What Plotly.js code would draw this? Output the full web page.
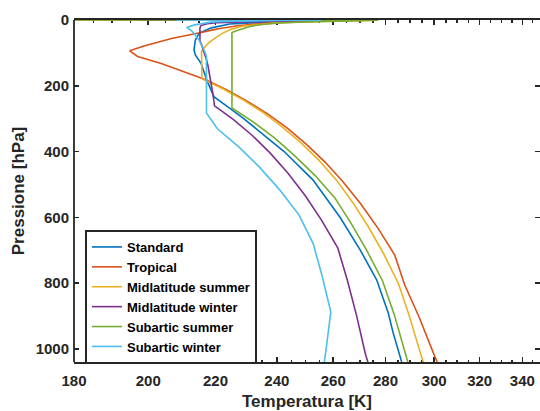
<!DOCTYPE html>
<html>
<head>
<meta charset="utf-8">
<script src="https://cdn.plot.ly/plotly-3.0.1.min.js"></script>
<style>html,body{margin:0;padding:0;background:#fff;overflow:hidden}</style>
</head>
<body>
<div id="chart" style="width:540px;height:411px"></div>
<script>
// ---- data (pressure in hPa, temperature in K) ----
const seriesNames = ["Standard", "Tropical", "Midlatitude summer", "Midlatitude winter", "Subartic summer", "Subartic winter"];

const pStandard = [1040, 950, 891, 790, 699, 600, 486, 400, 365, 300, 265, 233, 182, 131, 106, 91, 61, 40, 24, 12, 5, 2, 1, 0.7, 0.3, 0.1, 0.03, 0.01, 0.003, 0.0003];
const tStandard = [286.5, 283.0, 281.1, 276.5, 270.1, 262.5, 252.6, 242.5, 237.7, 229.0, 224.0, 219.5, 217.3, 215.5, 213.8, 213.4, 213.8, 215.0, 218.7, 224.5, 240, 255, 265, 270, 255, 235, 210, 195, 187, 195];

const pTropical = [1040, 1013, 904, 805, 715, 633, 559, 492, 432, 378, 329, 286, 247, 213, 182, 156, 132, 111, 93.7, 78.9, 66.6, 56.5, 48.0, 40.9, 35.0, 30.0, 25.7, 17.63, 12.2, 8.52, 6.0, 4.26, 3.05, 2.2, 1.59, 1.16, 0.854, 0.456, 0.239, 0.121, 0.058, 0.026, 0.011, 0.0044, 0.00172, 0.000688, 0.000289];
const tTropical = [301.3, 299.7, 293.7, 287.7, 283.7, 277.0, 270.3, 263.6, 257.0, 250.3, 243.6, 237.0, 230.1, 223.6, 217.0, 210.3, 203.7, 197.0, 194.8, 198.8, 202.7, 206.7, 210.7, 214.6, 217.0, 219.2, 221.4, 227.0, 232.3, 237.7, 243.1, 248.5, 254.0, 259.4, 264.8, 269.6, 270.2, 263.4, 253.1, 236.0, 218.9, 201.8, 184.8, 177.1, 177.0, 184.3, 190.7];

const pMidSummer = [1040, 1013, 902, 802, 710, 628, 554, 487, 426, 372, 324, 281, 243, 209, 179, 153, 130, 111, 95, 81.2, 69.5, 59.5, 51.0, 43.7, 37.6, 32.2, 27.7, 19.07, 13.2, 9.3, 6.52, 4.64, 3.33, 2.41, 1.76, 1.29, 0.951, 0.515, 0.272, 0.139, 0.067, 0.03, 0.012, 0.0045, 0.0016, 0.0006, 0.00025];
const tMidSummer = [295.4, 294.2, 289.7, 285.2, 279.2, 273.2, 267.2, 261.2, 254.7, 248.2, 241.7, 235.3, 228.8, 222.3, 215.8, 215.7, 215.7, 215.7, 215.7, 216.8, 217.9, 219.2, 220.4, 221.6, 222.8, 223.9, 225.1, 228.5, 233.7, 239.0, 245.2, 251.3, 257.5, 263.7, 269.9, 275.2, 275.7, 269.3, 257.1, 240.1, 218.1, 196.1, 174.1, 165.1, 165.0, 178.3, 190.5];

const pMidWinter = [1040, 1018, 897.3, 789.7, 693.8, 608.5, 532.2, 464.4, 404.1, 350.5, 303.0, 261.0, 224.3, 192.3, 164.6, 140.7, 120.2, 102.7, 87.7, 74.9, 63.9, 54.5, 46.5, 39.7, 33.8, 28.9, 24.7, 16.9, 11.6, 8.0, 5.5, 3.8, 2.7, 1.9, 1.4, 1.0, 0.73, 0.39, 0.2, 0.1, 0.05, 0.024, 0.011, 0.005, 0.002, 0.0008, 0.0003];
const tMidWinter = [273.1, 272.2, 268.7, 265.2, 261.7, 255.7, 249.7, 243.7, 237.7, 231.7, 225.7, 219.7, 219.2, 218.7, 218.2, 217.7, 217.2, 216.7, 216.2, 215.7, 215.2, 215.2, 215.2, 215.2, 215.2, 215.2, 215.2, 215.5, 217.4, 220.4, 227.9, 235.7, 243.5, 251.3, 259.1, 264.3, 265.5, 260.7, 250.0, 240.0, 230.0, 220.0, 210.0, 199.5, 199.0, 198.0, 208.0];

const pSubSummer = [1040, 1010, 896, 792.9, 700, 616, 541, 473.1, 412.5, 358.4, 310.7, 267.7, 230, 197.7, 170, 146.3, 125.9, 108.3, 93.29, 80.36, 69.23, 59.64, 51.38, 44.28, 38.15, 32.88, 28.33, 19.64, 13.67, 9.55, 6.70, 4.74, 3.39, 2.44, 1.78, 1.31, 0.97, 0.53, 0.28, 0.14, 0.067, 0.03, 0.012, 0.0045, 0.0016, 0.0006, 0.00023];
const tSubSummer = [289.0, 287.8, 283.5, 278.8, 272.6, 266.5, 260.6, 253.4, 246.1, 239.2, 232.2, 225.2, 225.2, 225.2, 225.2, 225.2, 225.2, 225.2, 225.2, 225.2, 225.2, 225.2, 225.2, 225.2, 225.2, 226.6, 228.1, 231.0, 235.1, 240.0, 247.2, 254.6, 262.1, 269.5, 273.6, 276.2, 277.2, 274.0, 262.7, 239.7, 216.6, 193.6, 170.6, 161.7, 161.6, 176.8, 190.4];

const pSubWinter = [1040, 1013, 887.8, 777.5, 679.8, 593.2, 515.8, 446.7, 385.3, 330.8, 282.9, 241.8, 206.7, 176.6, 150.9, 129.0, 110.3, 94.31, 80.58, 68.82, 58.75, 50.14, 42.77, 36.47, 31.09, 26.49, 22.56, 14.82, 9.73, 6.38, 4.2, 2.8, 1.88, 1.27, 0.87, 0.6, 0.42, 0.2, 0.1, 0.05, 0.02, 0.008, 0.003, 0.001, 0.0004];
const tSubWinter = [256.7, 257.2, 259.1, 255.9, 252.7, 247.7, 240.9, 234.1, 227.3, 220.6, 217.2, 217.2, 217.2, 217.2, 217.2, 217.2, 217.2, 216.6, 216.0, 215.4, 214.8, 214.1, 213.6, 213.0, 212.4, 211.8, 211.2, 213.6, 216.0, 218.5, 222.8, 228.3, 233.7, 239.1, 244.6, 250.1, 255.6, 252.0, 242.0, 232.0, 222.0, 214.0, 210.0, 208.0, 210.0];

const xTickVals = [180, 200, 220, 240, 260, 280, 300, 320, 340];
const xMinorVals = [185, 190, 195, 205, 210, 215, 225, 230, 235, 245, 250, 255, 265, 270, 275, 285, 290, 295, 305, 310, 315, 325, 330, 335, 345];
const yTickVals = [0, 200, 400, 600, 800, 1000];

const colors = ["#0072BD", "#D95319", "#EDB120", "#7E2F8E", "#77AC30", "#4DBEEE"];
const temps = [tStandard, tTropical, tMidSummer, tMidWinter, tSubSummer, tSubWinter];
const press = [pStandard, pTropical, pMidSummer, pMidWinter, pSubSummer, pSubWinter];

const traces = seriesNames.map((name, i) => ({
  type: "scatter", mode: "lines", name: name,
  x: temps[i], y: press[i],
  line: {color: colors[i], width: 1.6}
}));

const axisColor = "#262626";
const fam = "Liberation Sans, Arial, sans-serif";
const tickFont = {family: fam, size: 15, color: axisColor, weight: 700};

const layout = {
  width: 540, height: 411,
  margin: {l: 74, r: 0, t: 20, b: 49},
  paper_bgcolor: "#ffffff", plot_bgcolor: "#ffffff",
  showlegend: true,
  xaxis: {
    type: "log",
    range: [Math.log10(180), Math.log10(348.6)],
    tickmode: "array", tickvals: xTickVals, ticktext: xTickVals.map(String),
    ticks: "inside", ticklen: 5, tickwidth: 1.6, tickcolor: axisColor,
    minor: {tickmode: "array", tickvals: xMinorVals, ticks: "inside", ticklen: 2.5, tickwidth: 1.6, tickcolor: axisColor, showgrid: false},
    showline: true, linecolor: axisColor, linewidth: 1.8, mirror: "allticks",
    showgrid: false, zeroline: false,
    layer: "below traces",
    tickfont: tickFont,
    ticklabelstandoff: 4,
    title: {text: "Temperatura [K]", font: {family: fam, size: 17, color: axisColor, weight: 700}, standoff: 8}
  },
  yaxis: {
    range: [1040, 0],
    tickmode: "array", tickvals: yTickVals, ticktext: yTickVals.map(String),
    ticks: "inside", ticklen: 5, tickwidth: 1.6, tickcolor: axisColor,
    showline: false, mirror: "ticks",
    showgrid: false, zeroline: false,
    tickfont: tickFont,
    ticklabelstandoff: 4,
    title: {text: "Pressione [hPa]", font: {family: fam, size: 17, color: axisColor, weight: 700}, standoff: 6}
  },
  shapes: [{type: "line", xref: "paper", yref: "paper", x0: 0, x1: 0, y0: 0, y1: 1, line: {color: axisColor, width: 1.8}}],
  legend: {
    x: 0.0236, y: 0.386, xanchor: "left", yanchor: "top",
    bgcolor: "#ffffff", bordercolor: axisColor, borderwidth: 2,
    font: {family: fam, size: 13, color: "#000000", weight: 700},
    tracegroupgap: 0, itemwidth: 30
  }
};

Plotly.newPlot("chart", traces, layout, {displayModeBar: false, staticPlot: true});
</script>
</body>
</html>
